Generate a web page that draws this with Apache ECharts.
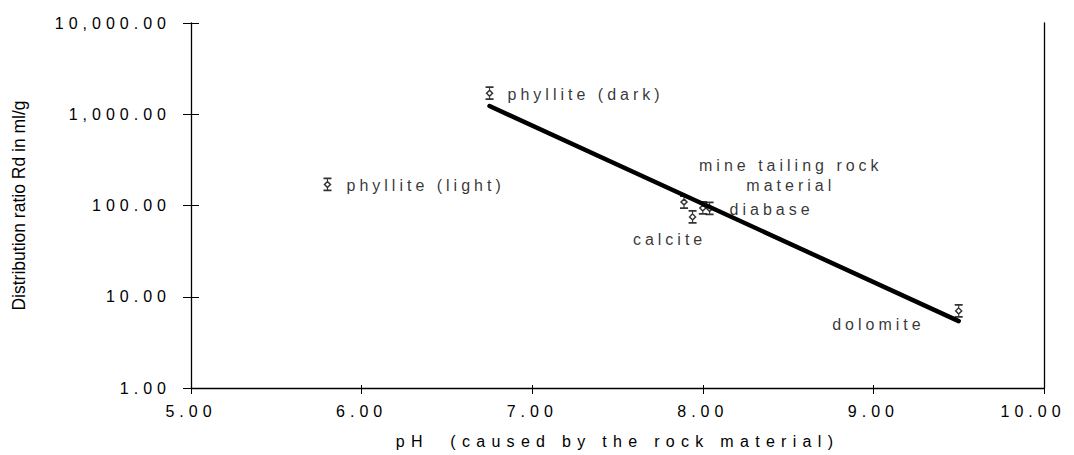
<!DOCTYPE html>
<html>
<head>
<meta charset="utf-8">
<script src="https://cdn.jsdelivr.net/npm/echarts@6/dist/echarts.min.js"></script>
<style>
  html, body { margin: 0; padding: 0; background: #fff; }
  #chart { width: 1074px; height: 455px; }
  /* spaced-out lettering, picked per text kind through its font list */
  #chart svg text { white-space: pre; }
  #chart svg text[style*="Tahoma"] { letter-spacing: 5px; }
  #chart svg text[style*="Verdana"] { letter-spacing: 4px; }
  #chart svg text[style*="Geneva"] { letter-spacing: 6.3px; }
</style>
</head>
<body>
<div id="chart"></div>
<script>
// Measured samples: pH caused by each rock and its distribution ratio Rd (ml/g)
const rockNames = ['phyllite (dark)', 'phyllite (light)', '', 'calcite', 'mine tailing rock\nmaterial', 'diabase', 'dolomite'];
const phValues = [6.75, 5.8, 7.89, 7.94, 8.0, 8.04, 9.5];
const rdValues = [1700, 170, 109, 75, 94, 93, 7.0];

// Fitted trend (straight on the log axis)
const trendPh = [6.75, 9.5];
const trendRd = [1230, 5.4];

// Axis ranges and ticks
const xMin = 5, xMax = 10, xStep = 1;
const yMin = 1, yMax = 10000;
const xTitle = 'pH  (caused by the rock material)';
const yTitle = 'Distribution ratio Rd in ml/g';

// Where each sample's name sits relative to its marker
const labelPlacement = [
  { align: 'left', offset: [18, 1] },
  { align: 'left', offset: [19, 1] },
  { align: 'left', offset: [0, 0] },
  { align: 'center', offset: [-23, 23] },
  { align: 'center', offset: [88, -32] },
  { align: 'left', offset: [20, 1] },
  { align: 'right', offset: [-34, 14] }
];

const TICK_FONT = 'Liberation Sans, Tahoma';
const NOTE_FONT = 'Liberation Sans, Verdana';
const XNAME_FONT = 'Liberation Sans, Geneva';
const INK = '#000';

const fmt2 = v => Number(v).toLocaleString('en-US', { minimumFractionDigits: 2, maximumFractionDigits: 2 });

// Marker: hollow diamond with small error-bar caps above and below
const markerPath = 'path://M0,0L8,0M4,0L4,3M4,3L7,6L4,9L1,6ZM4,9L4,12M0,12L8,12';

const points = phValues.map((ph, i) => ({
  value: [ph, rdValues[i]],
  label: {
    show: rockNames[i] !== '',
    formatter: rockNames[i],
    position: 'inside',
    align: labelPlacement[i].align,
    verticalAlign: 'middle',
    offset: labelPlacement[i].offset
  }
}));

const chart = echarts.init(document.getElementById('chart'), null, { renderer: 'svg' });

chart.setOption({
  animation: false,
  backgroundColor: '#fff',
  grid: { left: 191, right: 30, top: 23, bottom: 67 },
  xAxis: [
    {
      type: 'value', min: xMin, max: xMax, interval: xStep,
      name: xTitle, nameLocation: 'middle', nameGap: 45,
      nameTextStyle: { fontFamily: XNAME_FONT, fontSize: 16, color: INK },
      axisLine: { show: true, lineStyle: { color: '#000', width: 1.3 } },
      axisTick: { show: true, length: 6, lineStyle: { color: '#000' } },
      axisLabel: {
        // the last label is nudged inward so it stays inside the frame
        formatter: v => (v === xMax ? '{last|' + v.toFixed(2) + '}' : v.toFixed(2)),
        margin: 15, fontFamily: TICK_FONT, fontSize: 16, color: INK,
        rich: { last: { fontFamily: TICK_FONT, fontSize: 16, color: INK, padding: [0, 22, 0, 0] } }
      },
      splitLine: { show: false }
    },
    {
      type: 'value', min: xMin, max: xMax, interval: xStep, position: 'bottom',
      axisLine: { show: false },
      axisTick: { show: true, inside: true, length: 3, lineStyle: { color: '#000' } },
      axisLabel: { show: false },
      splitLine: { show: false }
    }
  ],
  yAxis: [
    {
      type: 'log', logBase: 10, min: yMin, max: yMax,
      name: yTitle, nameLocation: 'middle', nameGap: 163,
      nameTextStyle: { fontFamily: 'Liberation Sans', fontSize: 17.5, color: INK },
      axisLine: { show: true, lineStyle: { color: '#000', width: 1.3 } },
      axisTick: { show: true, length: 8, lineStyle: { color: '#000' } },
      axisLabel: { formatter: v => fmt2(v), margin: 20, fontFamily: TICK_FONT, fontSize: 16, color: INK },
      splitLine: { show: false }
    },
    {
      type: 'log', logBase: 10, min: yMin, max: yMax, position: 'left',
      axisLine: { show: false },
      axisTick: { show: true, inside: true, length: 8, lineStyle: { color: '#000' } },
      axisLabel: { show: false },
      splitLine: { show: false }
    },
    {
      type: 'log', logBase: 10, min: yMin, max: yMax, position: 'right',
      axisLine: { show: true, lineStyle: { color: '#000', width: 1.3 } },
      axisTick: { show: false },
      axisLabel: { show: false },
      splitLine: { show: false }
    }
  ],
  series: [
    {
      type: 'scatter',
      xAxisIndex: 0, yAxisIndex: 0,
      symbol: markerPath,
      symbolSize: [8, 12],
      itemStyle: { color: '#fff', borderColor: '#000', borderWidth: 1.4 },
      label: { fontFamily: NOTE_FONT, fontSize: 16, color: INK, lineHeight: 20 },
      emphasis: { disabled: true },
      data: points,
      z: 2
    },
    {
      type: 'line',
      xAxisIndex: 0, yAxisIndex: 0,
      showSymbol: false,
      lineStyle: { color: '#000', width: 4.5, cap: 'round' },
      emphasis: { disabled: true },
      data: trendPh.map((ph, i) => [ph, trendRd[i]]),
      z: 3
    }
  ]
});
</script>
</body>
</html>
